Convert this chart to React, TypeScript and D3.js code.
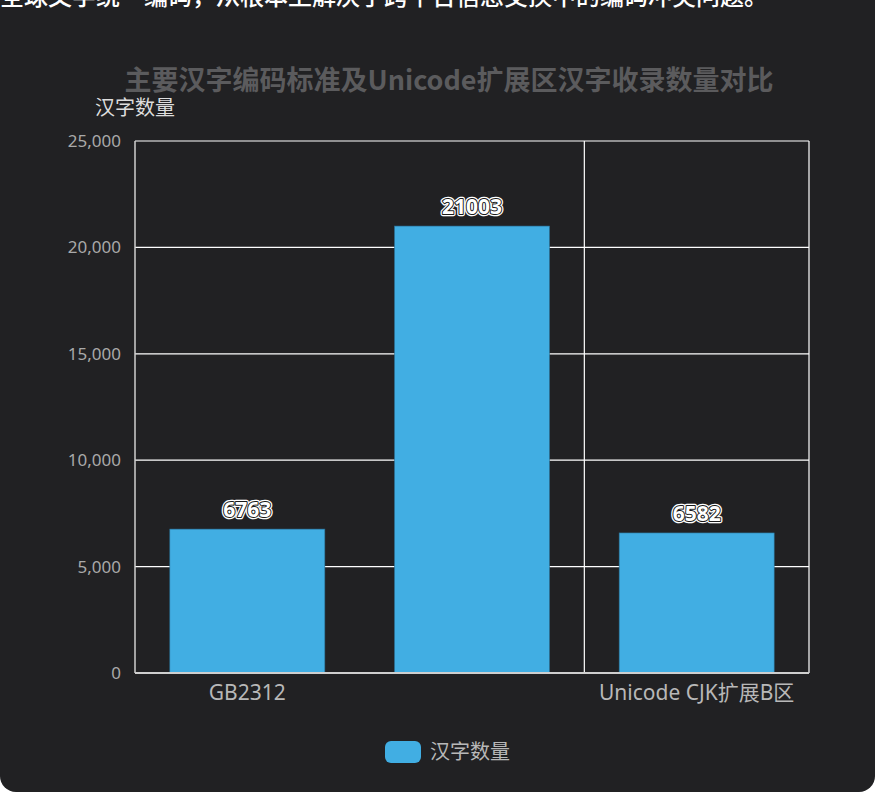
import { useMemo } from "react";
import * as d3 from "d3";

// chart data
const categories = ["GB2312", "GBK", "Unicode CJK扩展B区"];
const shownLabels = [true, false, true]; // the middle axis label is hidden in the original
const counts = [6763, 21003, 6582];
const yTicks = [0, 5000, 10000, 15000, 20000, 25000];
const seriesName = "汉字数量";
const chartTitle = "主要汉字编码标准及Unicode扩展区汉字收录数量对比";
const captionAbove = "全球文字统一编码，从根本上解决了跨平台信息交换中的编码冲突问题。";

const W = 875;
const H = 797;
const margin = { top: 141, right: 66, bottom: 124, left: 135 };
const FONT = "'Noto Sans', 'Noto Sans CJK SC', sans-serif";
const CJK = "'Noto Sans CJK SC', sans-serif";

export default function App() {
  const x = useMemo(
    () => d3.scaleBand<string>().domain(categories).range([margin.left, W - margin.right]).paddingInner(0).paddingOuter(0),
    []
  );
  const y = useMemo(
    () => d3.scaleLinear().domain([0, 25000]).range([H - margin.bottom, margin.top]),
    []
  );
  const fmt = d3.format(",");
  const barW = x.bandwidth() * 0.69;
  const x0 = margin.left;
  const x1 = W - margin.right;
  const yBottom = y(0);
  // split lines on category boundary 2 and the end
  const splitX = [x(categories[2])!, x1];

  return (
    <svg width={W} height={H} style={{ position: "absolute", left: 0, top: 0, background: "#fff" }} fontFamily={FONT}>
      <rect x={0} y={-20} width={W} height={812} rx={16} fill="#212123" />
      <text x={0} y={5} fontSize={24} fontWeight={500} fill="#ffffff" fontFamily={CJK}>
        {captionAbove}
      </text>

      <text x={449} y={90} textAnchor="middle" fontSize={27} fontWeight="bold" fill="#5b5b5d" fontFamily={CJK}>
        {chartTitle}
      </text>
      <text x={x0} y={115} textAnchor="middle" fontSize={20} fill="#dddddd" fontFamily={CJK}>
        {seriesName}
      </text>

      {/* horizontal grid */}
      {yTicks.filter(t => t > 0).map(t => (
        <line key={t} x1={x0} x2={x1} y1={y(t)} y2={y(t)} stroke="#ffffff" strokeWidth={1.2} />
      ))}
      {splitX.map((sx, i) => (
        <line key={i} x1={sx} x2={sx} y1={y(25000)} y2={yBottom} stroke="#ffffff" strokeWidth={1.2} />
      ))}

      {/* bars */}
      {categories.map((c, i) => (
        <rect key={c} x={x(c)! + (x.bandwidth() - barW) / 2} y={y(counts[i])} width={barW}
          height={yBottom - y(counts[i])} fill="#41aee3" stroke="#2a6f94" strokeWidth={0.6} />
      ))}

      {/* axis lines */}
      <line x1={x0} x2={x0} y1={y(25000)} y2={yBottom} stroke="#cfcfcf" strokeWidth={1.5} />
      <line x1={x0} x2={x1} y1={yBottom} y2={yBottom} stroke="#cfcfcf" strokeWidth={2} />

      {/* y tick labels */}
      {yTicks.map(t => (
        <text key={t} x={121} y={y(t)} dy="0.35em" textAnchor="end" fontSize={17} fill="#a9a9a9">
          {fmt(t)}
        </text>
      ))}

      {/* category labels */}
      {categories.map((c, i) => shownLabels[i] ? (
        <text key={c} x={x(c)! + x.bandwidth() / 2} y={700} textAnchor="middle" fontSize={21} fill="#b8b8b8">
          {c}
        </text>
      ) : null)}

      {/* value labels */}
      {categories.map((c, i) => {
        const cx = x(c)! + x.bandwidth() / 2;
        const cy = y(counts[i]) - 12;
        return (
          <g key={c} fontSize={21} fontWeight="bold" textAnchor="middle">
            <text x={cx} y={cy} fill="#fff" stroke="#ffffff" strokeWidth={4.5} strokeLinejoin="round">{counts[i]}</text>
            <text x={cx} y={cy} fill="#fff" stroke="#1a1a1a" strokeWidth={2} strokeLinejoin="round" style={{ paintOrder: "stroke" }}>{counts[i]}</text>
          </g>
        );
      })}

      {/* legend */}
      <rect x={385} y={741} width={36} height={22} rx={6} fill="#41aee3" />
      <text x={430} y={752} dy="0.35em" fontSize={20} fill="#b8b8b8" fontFamily={CJK}>
        {seriesName}
      </text>
    </svg>
  );
}
